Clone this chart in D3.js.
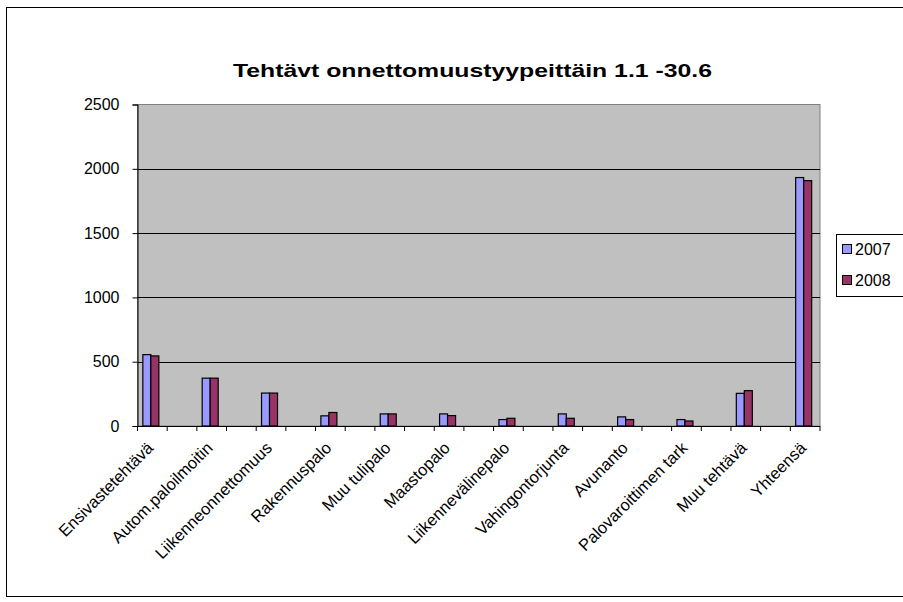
<!DOCTYPE html>
<html><head><meta charset="utf-8">
<script src="https://cdn.jsdelivr.net/npm/d3@7/dist/d3.min.js"></script>
<style>body{margin:0;background:#fff}svg{display:block}text{font-family:"Liberation Sans",Arial,sans-serif}</style>
</head><body><svg id="c" width="903" height="602"></svg>
<script>
const title = "Tehtävt onnettomuustyypeittäin 1.1 -30.6";
const categories = ["Ensivastetehtävä","Autom.paloilmoitin","Liikenneonnettomuus","Rakennuspalo","Muu tulipalo","Maastopalo","Liikennevälinepalo","Vahingontorjunta","Avunanto","Palovaroittimen tark","Muu tehtävä","Yhteensä"];
const seriesNames = ["2007","2008"];
const values2007 = [555,372,256,79,94,94,50,94,71,50,254,1932];
const values2008 = [545,372,256,105,94,81,60,60,50,39,275,1908];
const yTicks = [0,500,1000,1500,2000,2500];
const colors = ["#9999FF","#993366"];

const svg = d3.select("#c");
const L=137.5, R=820, T=104.5, B=426;
// chart border
svg.append("rect").attr("x",6.5).attr("y",7.5).attr("width",910).attr("height",589).attr("fill","#fff").attr("stroke","#000");
svg.append("text").attr("x",472.5).attr("y",77).attr("text-anchor","middle").attr("font-weight","bold").attr("font-size",19)
  .attr("textLength",479).attr("lengthAdjust","spacingAndGlyphs").text(title);

// slots: categories interleaved with empty slots
const slots = d3.range(categories.length*2-1);
const x = d3.scaleBand().domain(slots).range([L,R]).paddingInner(0).paddingOuter(0);
const y = d3.scaleLinear().domain([0,2500]).range([B,T]);

svg.append("rect").attr("x",L).attr("y",T).attr("width",R-L).attr("height",B-T).attr("fill","#C0C0C0").attr("stroke","#808080");
// gridlines
svg.append("g").selectAll("line").data(yTicks.filter(d=>d>0&&d<2500)).join("line")
  .attr("x1",L).attr("x2",R).attr("y1",d=>Math.round(y(d))+0.5).attr("y2",d=>Math.round(y(d))+0.5).attr("stroke","#000");

// bars
const xs = d3.scaleBand().domain(seriesNames).range([0,16]);
const series = [values2007, values2008];
series.forEach((vals,si)=>{
  svg.append("g").selectAll("rect").data(vals).join("rect")
    .attr("x",(d,i)=>x(i*2)+ (x.bandwidth()-16)/2 + xs(seriesNames[si]) - 1.5)
    .attr("y",d=>y(d))
    .attr("width",xs.bandwidth())
    .attr("height",d=>B-y(d))
    .attr("fill",colors[si]).attr("stroke","#000").attr("stroke-width",1.2);
});

// y axis
const ya = d3.axisLeft(y).tickValues(yTicks).tickSize(5).tickPadding(13).tickFormat(d3.format("d"));
const gy = svg.append("g").attr("transform",`translate(${L},0)`).call(ya);
gy.select(".domain").attr("stroke","#000");
gy.selectAll("text").attr("font-size",16).attr("fill","#000").style("font-family","Liberation Sans, Arial, sans-serif");

// x axis line and ticks at slot boundaries
const gx = svg.append("g");
gx.append("line").attr("x1",L).attr("x2",R).attr("y1",B+0.5).attr("y2",B+0.5).attr("stroke","#000");
const bounds = slots.map(s=>x(s)).concat([R]);
gx.selectAll("line.t").data(bounds).join("line").attr("class","t")
  .attr("x1",d=>d).attr("x2",d=>d).attr("y1",B).attr("y2",B+5).attr("stroke","#000");
gx.selectAll("text").data(categories).join("text")
  .attr("transform",(d,i)=>`translate(${x(i*2)+x.bandwidth()/2+2},${B+23}) rotate(-45)`)
  .attr("text-anchor","end").attr("font-size",16.5).text(d=>d);

// legend
const lg = svg.append("g");
lg.append("rect").attr("x",836.5).attr("y",234.5).attr("width",80).attr("height",62).attr("fill","#fff").attr("stroke","#000");
seriesNames.forEach((s,i)=>{
  lg.append("rect").attr("x",842.5).attr("y",244.5+i*31).attr("width",9).attr("height",9).attr("fill",colors[i]).attr("stroke","#000");
  lg.append("text").attr("x",855).attr("y",255+i*31).attr("font-size",16).text(s);
});
</script></body></html>
